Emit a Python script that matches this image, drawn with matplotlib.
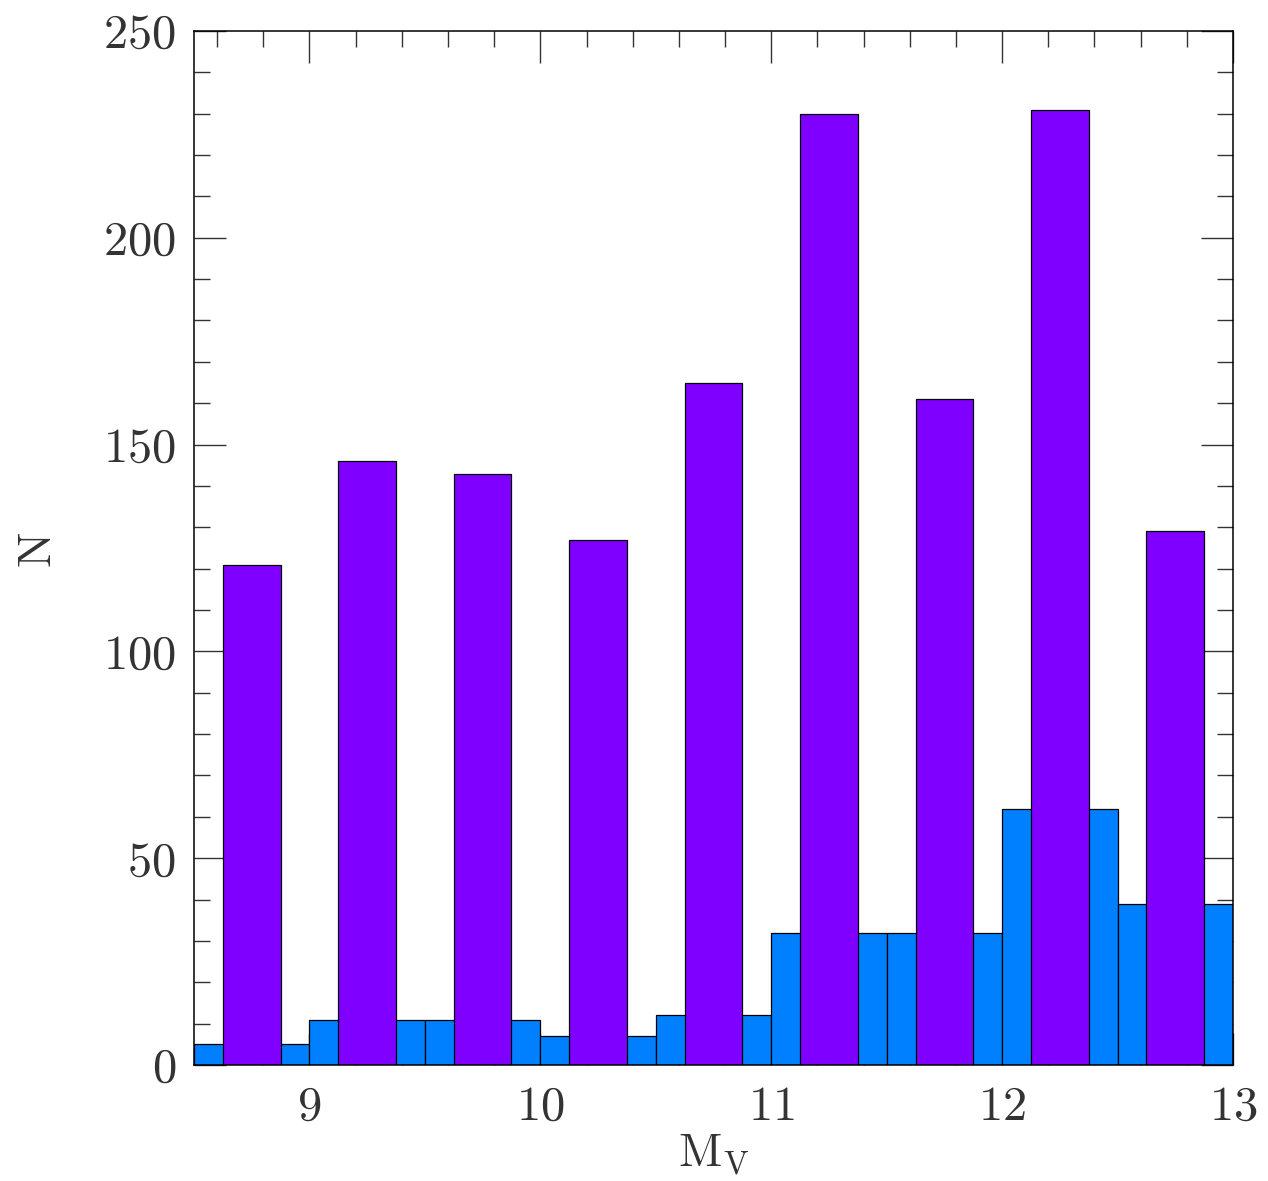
import numpy as np
import matplotlib
matplotlib.use("Agg")
from matplotlib import pyplot as plt
from matplotlib.ticker import MultipleLocator

# wide bins (0.5 mag), blue
wide_left = [8.5, 9.0, 9.5, 10.0, 10.5, 11.0, 11.5, 12.0, 12.5]
wide_n = [5, 11, 11, 7, 12, 32, 32, 62, 39]

# narrow bins (0.25 mag) centred in each wide bin, purple
narrow_centre = [8.75, 9.25, 9.75, 10.25, 10.75, 11.25, 11.75, 12.25, 12.75]
narrow_n = [121, 146, 143, 127, 165, 230, 161, 231, 129]

plt.rcParams['font.family'] = ['cmr10', 'DejaVu Serif']
plt.rcParams['mathtext.fontset'] = 'cm'
plt.rcParams['axes.formatter.use_mathtext'] = True

fig = plt.figure(figsize=(12.68, 11.81), dpi=100)
ax = fig.add_axes([0.153, 0.0982, 0.9724 - 0.153, 0.9738 - 0.0982])

ax.bar(wide_left, wide_n, width=0.5, align='edge', color='#0080ff',
       edgecolor='black', linewidth=0.9, zorder=2)
ax.bar(narrow_centre, narrow_n, width=0.25, align='center', color='#8000ff',
       edgecolor='black', linewidth=0.9, zorder=3)

ax.set_xlim(8.5, 13)
ax.set_ylim(0, 250)
ax.xaxis.set_major_locator(MultipleLocator(1))
ax.xaxis.set_minor_locator(MultipleLocator(0.2))
ax.yaxis.set_major_locator(MultipleLocator(50))
ax.yaxis.set_minor_locator(MultipleLocator(10))

ax.tick_params(which='both', direction='in', top=True, right=True,
               width=1.0, colors='#333333', labelsize=35)
ax.tick_params(which='major', length=23)
ax.tick_params(which='minor', length=11.5)
ax.tick_params(axis='x', pad=15)
ax.tick_params(axis='y', pad=13)
for s in ax.spines.values():
    s.set_linewidth(1.1)
    s.set_zorder(5)

ax.set_xlabel(r'$\mathrm{M_V}$', fontsize=34, labelpad=2, color='#333333')
ax.set_ylabel('N', fontsize=34, labelpad=32, color='#333333')

fig.savefig('out.png', dpi=100)
